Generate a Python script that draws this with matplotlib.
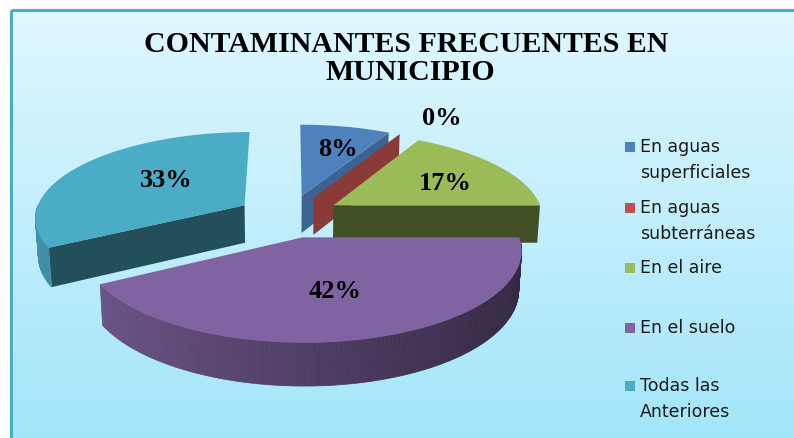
import numpy as np
import matplotlib
matplotlib.use('Agg')
import matplotlib.pyplot as plt
from matplotlib.patches import Polygon, Rectangle
from matplotlib.colors import to_rgb

# data
categories = ['En aguas\nsuperficiales', 'En aguas\nsubterráneas', 'En el aire',
              'En el suelo', 'Todas las\nAnteriores']
percentages = [8, 0, 17, 42, 33]
title_lines = ['CONTAMINANTES FRECUENTES EN', 'MUNICIPIO']

# styles
colors = ['#4F81BD', '#C0504D', '#9BBB59', '#8064A2', '#4BACC6']
cut_shade = [0.77, 0.72, 0.42, 0.45, 0.46]
label_r = [0.6, 1.3, 0.65, 0.55, 0.5]
label_nudge = [(9, -3), (20, 1), (3, 4), (0, 2), (6, -4)]
draw_order = [4, 0, 1, 2, 3]

# fake 3d view (perspective), result in pixel coords
ELEV = np.radians(24)
DIST = 7.0
SCALE = 1470
CX, CY = 289, 216
THICK = 0.2
EXPLODE = 0.25
view_dir = np.array([0, -np.cos(ELEV), np.sin(ELEV)])  # towards the viewer


def project(x, y, z):
	x, y, z = np.asarray(x, float), np.asarray(y, float), np.asarray(z, float)
	yc = y*np.sin(ELEV) + z*np.cos(ELEV)
	dc = DIST + y*np.cos(ELEV) - z*np.sin(ELEV)
	return CX + SCALE*x/dc, CY - SCALE*yc/dc


def shade(color, f):
	return tuple(np.clip(np.array(to_rgb(color))*f, 0, 1))


def facing(normal):
	return np.dot(normal, view_dir) > 1e-9


fig = plt.figure(figsize=(7.94, 4.38), dpi=100)
ax = fig.add_axes([0, 0, 1, 1])
ax.set_xlim(0, 794)
ax.set_ylim(438, 0)
ax.axis('off')

# background gradient + frame
grad = np.linspace(0, 1, 256)[:, None, None]
top_c = np.array(to_rgb('#E0F7FE'))
bot_c = np.array(to_rgb('#A2E5F9'))
ax.imshow(top_c*(1-grad) + bot_c*grad, extent=(11, 800, 445, 10), aspect='auto',
          origin='upper', zorder=0)
ax.add_patch(Rectangle((11, 10), 800, 440, fill=False, edgecolor='#4BACC6', lw=2.2, zorder=1))

cum = np.concatenate([[0], np.cumsum(percentages)])
start = 90 - 3.6*cum[:-1]
end = 90 - 3.6*cum[1:]

z = 2
for i in draw_order:
	a1, a2 = np.radians(start[i]), np.radians(end[i])
	mid = (a1 + a2)/2
	ox, oy = EXPLODE*np.cos(mid), EXPLODE*np.sin(mid)

	# flat cut faces
	for ang, normal in [(a1, (-np.sin(a1), np.cos(a1), 0)), (a2, (np.sin(a2), -np.cos(a2), 0))]:
		if facing(np.array(normal)):
			xs = [ox, ox+np.cos(ang), ox+np.cos(ang), ox]
			ys = [oy, oy+np.sin(ang), oy+np.sin(ang), oy]
			zs = [0, 0, -THICK, -THICK]
			px, py = project(xs, ys, zs)
			ax.add_patch(Polygon(np.column_stack([px, py]), closed=True,
			                     fc=shade(colors[i], cut_shade[i]), ec='none', zorder=z))
			z += 1

	# curved outer side, strip by strip
	n = max(2, int(abs(a1 - a2)/np.radians(1)))
	t = np.linspace(a1, a2, n + 1)
	for k in range(n):
		tm = (t[k] + t[k+1])/2
		if not facing(np.array([np.cos(tm), np.sin(tm), 0])):
			continue
		tt = [t[k], t[k+1], t[k+1], t[k]]
		px, py = project(ox + np.cos(tt), oy + np.sin(tt), [0, 0, -THICK, -THICK])
		c = shade(colors[i], 0.625 + 0.225*(-np.cos(tm)))
		ax.add_patch(Polygon(np.column_stack([px, py]), closed=True, fc=c, ec=c, lw=0.5, zorder=z))
	z += 1

	# top face
	if percentages[i] > 0:
		tt = np.linspace(a1, a2, n + 1)
		xs = np.concatenate([[ox], ox + np.cos(tt)])
		ys = np.concatenate([[oy], oy + np.sin(tt)])
		px, py = project(xs, ys, np.zeros_like(xs))
		ax.add_patch(Polygon(np.column_stack([px, py]), closed=True, fc=colors[i], ec='none', zorder=z))
		z += 1

# percentage labels
for i, p in enumerate(percentages):
	mid = np.radians((start[i] + end[i])/2)
	ox, oy = EXPLODE*np.cos(mid), EXPLODE*np.sin(mid)
	lx, ly = project(ox + label_r[i]*np.cos(mid), oy + label_r[i]*np.sin(mid), 0)
	ax.text(lx + label_nudge[i][0], ly + label_nudge[i][1], f'{p}%', ha='center', va='center',
	        fontsize=19, fontweight='bold', family='Liberation Serif', color='black', zorder=50)

# title
ax.text(406, 52, title_lines[0], ha='center', va='baseline', fontsize=21.5, fontweight='bold',
        family='Liberation Serif', zorder=50)
ax.text(410, 80, title_lines[1], ha='center', va='baseline', fontsize=21.5, fontweight='bold',
        family='Liberation Serif', zorder=50)

# legend drawn by hand (Excel spaces entries evenly)
leg_y = [147, 208, 268, 328, 386]
for i, name in enumerate(categories):
	ax.add_patch(Rectangle((625, leg_y[i] - 5), 10, 10, fc=colors[i], ec='none', zorder=50))
	for j, line in enumerate(name.split('\n')):
		ax.text(640, leg_y[i] + 26*j, line, ha='left', va='center', fontsize=12.5,
		        family='DejaVu Sans', color='#1a1a1a', zorder=50)

fig.savefig('out.png', dpi=100)
